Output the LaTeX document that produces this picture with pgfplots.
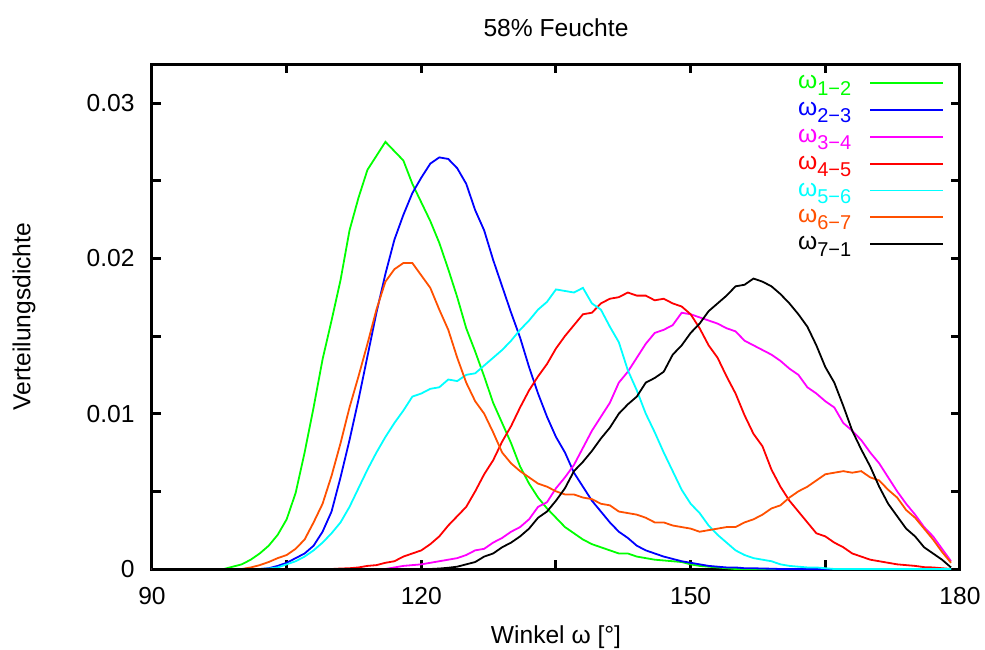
\documentclass[border=0pt]{standalone}
\usepackage{fontspec}
\setmainfont{Liberation Sans}
\usepackage{pgfplots}
\usepackage{pgfplotstable}
\pgfplotsset{compat=1.18}

\definecolor{lineG}{RGB}{0,255,0}
\definecolor{lineB}{RGB}{0,0,255}
\definecolor{lineM}{RGB}{255,0,255}
\definecolor{lineR}{RGB}{255,0,0}
\definecolor{lineC}{RGB}{0,255,255}
\definecolor{lineO}{RGB}{255,80,0}
\definecolor{lineK}{RGB}{0,0,0}

% legend label: omega with an enhanced-style subscript
\newcommand{\om}[2]{\textcolor{#1}{ω\raisebox{-3.5pt}{\fontsize{10}{10}\selectfont #2}}}

% angle distribution densities, 1 degree bins
% w: angle, g: 1-2, b: 2-3, m: 3-4, r: 4-5, c: 5-6, o: 6-7, k: 7-1
\pgfplotstableread{
w   g       b       m       r       c       o       k
90  0       0       0       0       0       0       0
91  0       0       0       0       0       0       0
92  0       0       0       0       0       0       0
93  0       0       0       0       0       0       0
94  0       0       0       0       0       0       0
95  0       0       0       0       0       0       0
96  0       0       0       0       0       0       0
97  0       0       0       0       0       0       0
98  0       0       0       0       0       0       0
99  0.00015 0       0       0       0       0       0
100 0.0003  0       0       0       0       0       0
101 0.0006  0       0       0       0       0.0001  0
102 0.0010  0       0       0       0       0.00025 0
103 0.0015  0.00005 0       0       0.00003 0.00045 0
104 0.0022  0.0002  0       0       0.0001  0.0007  0
105 0.0032  0.0004  0       0       0.0003  0.0009  0
106 0.0049  0.0007  0       0       0.0005  0.0013  0
107 0.0075  0.0010  0       0       0.0008  0.0019  0
108 0.0104  0.0015  0       0       0.0012  0.0030  0
109 0.0135  0.0024  0       0       0.0017  0.0042  0
110 0.0160  0.0037  0       0       0.0023  0.0060  0
111 0.0186  0.0059  0       0.00003 0.0030  0.0081  0
112 0.0218  0.0083  0       0.00005 0.0040  0.0104  0
113 0.0239  0.0109  0       0.0001  0.0052  0.0124  0
114 0.0257  0.0137  0       0.0002  0.0064  0.0145  0
115 0.0266  0.0165  0       0.00025 0.0075  0.0167  0
116 0.0275  0.0190  0       0.0004  0.0085  0.0185  0
117 0.0269  0.0212  0.0001  0.0005  0.0094  0.0193  0
118 0.0263  0.0228  0.0002  0.0008  0.0102  0.0197  0
119 0.0248  0.0242  0.00025 0.0010  0.0111  0.0197  0
120 0.0236  0.0252  0.0003  0.0012  0.0113  0.0189  0
121 0.0224  0.0261  0.0004  0.0016  0.0116  0.0181  0
122 0.0210  0.0265  0.0005  0.0021  0.0117  0.0167  0.00003
123 0.0193  0.0264  0.0006  0.0028  0.0122  0.0154  0.00008
124 0.0175  0.0258  0.0007  0.0034  0.0121  0.0136  0.00015
125 0.0155  0.0248  0.0009  0.0040  0.0125  0.0120  0.0003
126 0.0140  0.0231  0.0012  0.0050  0.0126  0.0108  0.00045
127 0.0124  0.0218  0.0013  0.0061  0.0131  0.0100  0.0008
128 0.0107  0.0199  0.0017  0.0070  0.0136  0.0088  0.0010
129 0.0094  0.0182  0.0020  0.0082  0.0141  0.0075  0.0014
130 0.0081  0.0165  0.0024  0.0092  0.0147  0.0068  0.0017
131 0.0066  0.0149  0.0027  0.0104  0.0154  0.0063  0.0021
132 0.0055  0.0130  0.0032  0.0115  0.0160  0.0059  0.0026
133 0.0046  0.0113  0.0040  0.0124  0.0167  0.0055  0.0033
134 0.0039  0.0098  0.0043  0.0132  0.0172  0.0053  0.0037
135 0.0033  0.0085  0.0052  0.0142  0.0180  0.0050  0.0044
136 0.0027  0.0075  0.0059  0.0150  0.0179  0.0048  0.0052
137 0.0023  0.0062  0.0067  0.0157  0.0178  0.0048  0.0063
138 0.0019  0.0053  0.0078  0.0164  0.0181  0.0046  0.0069
139 0.0016  0.0044  0.0089  0.0165  0.0171  0.0045  0.0076
140 0.0014  0.0037  0.0098  0.0171  0.0167  0.0042  0.0084
141 0.0012  0.0030  0.0107  0.0174  0.0156  0.0041  0.0091
142 0.0010  0.0024  0.0120  0.0175  0.0146  0.0037  0.0100
143 0.0010  0.0020  0.0127  0.0178  0.0128  0.0036  0.0106
144 0.0008  0.0015  0.0136  0.0176  0.0115  0.0035  0.0111
145 0.0007  0.0012  0.0145  0.0176  0.0100  0.0033  0.0120
146 0.0006  0.0010  0.0152  0.0173  0.0088  0.0030  0.0123
147 0.00055 0.0008  0.0154  0.0174  0.0075  0.0030  0.0127
148 0.0005  0.00065 0.0157  0.0171  0.0063  0.0028  0.0138
149 0.00045 0.0005  0.0165  0.0169  0.0051  0.0027  0.0144
150 0.0003  0.0004  0.0164  0.0164  0.0042  0.0026  0.0152
151 0.0002  0.0003  0.0162  0.0155  0.0036  0.0024  0.0158
152 0.00015 0.0002  0.0160  0.0144  0.0028  0.0025  0.0166
153 0.0001  0.00015 0.0158  0.0136  0.0022  0.0026  0.0171
154 0.00005 0.0001  0.0155  0.0124  0.0017  0.0027  0.0176
155 0       0.0001  0.0153  0.0113  0.0012  0.0027  0.0182
156 0       0.00005 0.0147  0.0099  0.0009  0.0030  0.0183
157 0       0.00005 0.0144  0.0087  0.0007  0.0032  0.0187
158 0       0.00003 0.0141  0.0079  0.0006  0.0035  0.0185
159 0       0.00002 0.0138  0.0064  0.0005  0.0039  0.0182
160 0       0       0.0134  0.0053  0.0003  0.0041  0.0177
161 0       0       0.0129  0.0044  0.0002  0.0046  0.0171
162 0       0       0.0125  0.0037  0.00015 0.0050  0.0164
163 0       0       0.0117  0.0030  0.0001  0.0053  0.0156
164 0       0       0.0113  0.0023  0.0001  0.0057  0.0144
165 0       0       0.0108  0.0021  0.00005 0.0061  0.0130
166 0       0       0.0104  0.0017  0       0.0062  0.0120
167 0       0       0.0094  0.0014  0       0.0063  0.0105
168 0       0       0.0089  0.0010  0       0.0062  0.0089
169 0       0       0.0083  0.0008  0       0.0063  0.0077
170 0       0       0.0075  0.0006  0       0.0059  0.0066
171 0       0       0.0068  0.0005  0       0.0057  0.0053
172 0       0       0.0059  0.0004  0       0.0051  0.0042
173 0       0       0.0050  0.0003  0       0.0046  0.0034
174 0       0       0.0042  0.00025 0       0.0038  0.0026
175 0       0       0.0035  0.0002  0       0.0033  0.0021
176 0       0       0.0027  0.00012 0       0.0026  0.0014
177 0       0       0.0021  0.0001  0       0.0019  0.0010
178 0       0       0.0013  0.00005 0       0.0011  0.0006
179 0       0       0.0005  0       0       0.0004  0.0001
}\dens

\begin{document}
\fontsize{12.3}{14.8}\selectfont
\begin{tikzpicture}
\useasboundingbox (-76pt,-40pt) rectangle (416.5pt,284.5pt);
\begin{axis}[
  name=ax,
  at={(0,0)}, anchor=south west,
  scale only axis,
  width=404pt, height=252.4pt,
  xmin=90, xmax=180, ymin=0, ymax=0.0325,
  xtick={90,120,150,180},
  ytick={0,0.01,0.02,0.03},
  minor x tick num=1,
  minor y tick num=1,
  scaled y ticks=false,
  yticklabel style={/pgf/number format/fixed, /pgf/number format/precision=2,
                    inner sep=0pt, xshift=-8.5pt},
  xticklabel style={inner sep=0pt, yshift=-9pt},
  /pgf/number format/assume math mode=true,
  tick align=inside,
  major tick length=4.5pt, minor tick length=4.5pt,
  every tick/.style={black, line width=1.5pt},
  axis line style={line width=1.5pt},
  legend plot pos=right,
  legend cell align=right,
  legend image code/.code={\draw[#1, line width=0.9pt] (0pt,1pt) -- (36.5pt,1pt);},
  legend style={draw=none, fill=none, at={(rel axis cs:1,1)}, anchor=north east,
                xshift=-8pt, yshift=-3.8pt, inner sep=0pt, outer sep=0pt,
                row sep=0pt, column sep=9pt,
                nodes={inner sep=0pt, text height=8.5pt, text depth=4.9pt}},
  every axis plot/.append style={line width=0.9pt, no markers},
]
\addplot[color=lineG] table[x=w, y=g] {\dens};
\addlegendentry{\om{lineG}{1−2}}
\addplot[color=lineB] table[x=w, y=b] {\dens};
\addlegendentry{\om{lineB}{2−3}}
\addplot[color=lineM] table[x=w, y=m] {\dens};
\addlegendentry{\om{lineM}{3−4}}
\addplot[color=lineR] table[x=w, y=r] {\dens};
\addlegendentry{\om{lineR}{4−5}}
\addplot[color=lineC] table[x=w, y=c] {\dens};
\addlegendentry{\om{lineC}{5−6}}
\addplot[color=lineO] table[x=w, y=o] {\dens};
\addlegendentry{\om{lineO}{6−7}}
\addplot[color=lineK] table[x=w, y=k] {\dens};
\addlegendentry{\om{lineK}{7−1}}
\end{axis}
\node[anchor=base] at ([yshift=14pt]ax.north) {58\% Feuchte};
\node[anchor=base] at ([yshift=-37pt]ax.south) {Winkel ω [°]};
\node[anchor=base, rotate=90] at ([xshift=-60.75pt]ax.west) {Verteilungsdichte};
\end{tikzpicture}
\end{document}
